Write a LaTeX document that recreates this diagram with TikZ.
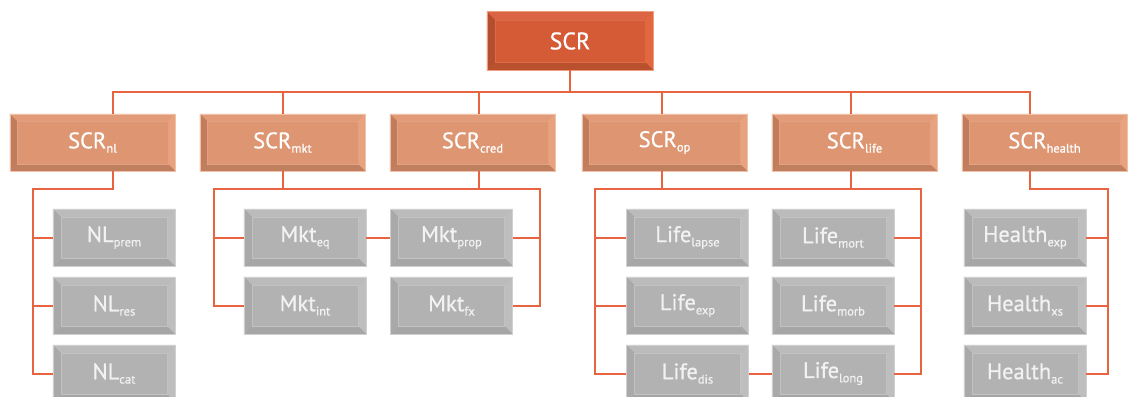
\documentclass[tikz,border=0pt]{standalone}
\usepackage{fontspec}
\setmainfont{PT Sans}[FakeBold=0.7]
\usetikzlibrary{calc}
\definecolor{linec}{HTML}{E8633F}
\definecolor{Aface}{HTML}{D55A36}
\definecolor{At}{HTML}{DB6444}
\definecolor{Ar}{HTML}{E2673F}
\definecolor{Ab}{HTML}{B9512F}
\definecolor{Al}{HTML}{B54E2E}
\definecolor{Ae}{HTML}{EE9F80}
\definecolor{Ai}{HTML}{DD6A48}
\definecolor{Bface}{HTML}{DD9572}
\definecolor{Bt}{HTML}{E19B78}
\definecolor{Br}{HTML}{E8A27E}
\definecolor{Bb}{HTML}{C0805F}
\definecolor{Bl}{HTML}{C07C5B}
\definecolor{Be}{HTML}{F0C0A8}
\definecolor{Bi}{HTML}{E3A083}
\definecolor{Cface}{HTML}{B2B2B2}
\definecolor{Ct}{HTML}{BBBBBB}
\definecolor{Cr}{HTML}{BEBEBE}
\definecolor{Cb}{HTML}{A6A6A6}
\definecolor{Cl}{HTML}{A9A9A9}
\definecolor{Ce}{HTML}{D0D0D0}
\definecolor{Ci}{HTML}{C2C2C2}
\newcommand\sub[1]{\raisebox{-4.3pt}{\fontsize{12.5}{14}\selectfont #1}}
% name, bevel width, colour prefix
\newcommand\bevel[3]{%
 \fill[#3t] (#1.north west) -- (#1.north east) -- ([shift={(-#2,-#2)}]#1.north east) -- ([shift={(#2,-#2)}]#1.north west) -- cycle;
 \fill[#3r] (#1.north east) -- (#1.south east) -- ([shift={(-#2,#2)}]#1.south east) -- ([shift={(-#2,-#2)}]#1.north east) -- cycle;
 \fill[#3b] (#1.south east) -- (#1.south west) -- ([shift={(#2,#2)}]#1.south west) -- ([shift={(-#2,#2)}]#1.south east) -- cycle;
 \fill[#3l] (#1.south west) -- (#1.north west) -- ([shift={(#2,-#2)}]#1.north west) -- ([shift={(#2,#2)}]#1.south west) -- cycle;
 \draw[#3i, line width=0.5pt] ([shift={(#2,-#2)}]#1.north west) rectangle ([shift={(-#2,#2)}]#1.south east);
 \draw[#3e, line width=0.6pt] (#1.north west) rectangle (#1.south east);
}
\begin{document}
\begin{tikzpicture}[x=1pt,y=-1pt,
  lvA/.style={minimum width=166pt, minimum height=58pt, inner sep=0pt, fill=Aface, text=white, font=\fontsize{24}{28}\selectfont},
  lvB/.style={minimum width=165pt, minimum height=57pt, inner sep=0pt, fill=Bface, text=white, font=\fontsize{22.5}{26}\selectfont},
  lvC/.style={minimum width=122pt, minimum height=57pt, inner sep=0pt, fill=Cface, text=white!95!black, font=\fontsize{22.5}{26}\selectfont},
  conn/.style={draw=linec, line width=2pt}]
\useasboundingbox (0,0) rectangle (1129,396);

% level 1
\node[lvA] (top) at (570,41) {SCR};
\bevel{top}{8pt}{A}

% level 2
\foreach \n/\x/\s in {nl/92.5/nl, mkt/282.5/mkt, cred/472.5/cred, op/664.5/op, life/854.5/life, health/1044.5/health}{
  \node[lvB] (\n) at (\x,142.5) {SCR\sub{\s}};
  \bevel{\n}{7pt}{B}
}

% level 3
\foreach \n/\x/\y/\t/\s in {
  nlprem/114/237.5/NL/prem, nlres/114/305.5/NL/res, nlcat/114/373.5/NL/cat,
  mkteq/305/237.5/Mkt/eq, mktint/305/305.5/Mkt/int,
  mktprop/451.5/237.5/Mkt/prop, mktfx/451.5/305.5/Mkt/fx,
  lapse/687.5/237.5/Life/lapse, lexp/687.5/305.5/Life/exp, ldis/687.5/373.5/Life/dis,
  mort/833/237.5/Life/mort, morb/833/305.5/Life/morb, llong/833/373.5/Life/long,
  hexp/1025/237.5/Health/exp, hxs/1025/305.5/Health/xs, hac/1025/373.5/Health/ac}{
  \node[lvC] (\n) at (\x,\y) {\t\sub{\s}};
  \bevel{\n}{8pt}{C}
}

% guide coordinates
\coordinate (bus) at (0,92);
\coordinate (bustwo) at (0,189);
\coordinate (nlx) at (113,0);
\coordinate (mktx) at (282.5,0);
\coordinate (credx) at (479,0);
\coordinate (opx) at (662,0);
\coordinate (lifex) at (851,0);
\coordinate (healthx) at (1030,0);
\coordinate (nlbar) at (33,0);
\coordinate (mktL) at (214,0);
\coordinate (mktR) at (540,0);
\coordinate (lifeL) at (595,0);
\coordinate (lifeR) at (921,0);
\coordinate (hR) at (1108,0);

% top bus
\draw[conn] (top.south) -- (top.south |- bus);
\draw[conn] (nl.north -| nlx) -- (bus -| nlx) -- (bus -| healthx) -- (health.north -| healthx);
\draw[conn] (mkt.north -| mktx) -- (bus -| mktx);
\draw[conn] (cred.north -| credx) -- (bus -| credx);
\draw[conn] (op.north -| opx) -- (bus -| opx);
\draw[conn] (life.north -| lifex) -- (bus -| lifex);

% NL group
\draw[conn] (nl.south -| nlx) -- (bustwo -| nlx) -- (bustwo -| nlbar) -- (nlcat.west -| nlbar) -- (nlcat.west);
\draw[conn] (nlprem.west -| nlbar) -- (nlprem.west);
\draw[conn] (nlres.west -| nlbar) -- (nlres.west);

% Market group
\draw[conn] (mkt.south -| mktx) -- (bustwo -| mktx);
\draw[conn] (cred.south -| credx) -- (bustwo -| credx);
\draw[conn] (mktint.west) -- (mktint.west -| mktL) -- (bustwo -| mktL) -- (bustwo -| mktR) -- (mktfx.east -| mktR) -- (mktfx.east);
\draw[conn] (mkteq.west) -- (mkteq.west -| mktL);
\draw[conn] (mkteq.east) -- (mktprop.west);
\draw[conn] (mktprop.east) -- (mktprop.east -| mktR);

% Life group
\draw[conn] (op.south -| opx) -- (bustwo -| opx);
\draw[conn] (life.south -| lifex) -- (bustwo -| lifex);
\draw[conn] (ldis.west) -- (ldis.west -| lifeL) -- (bustwo -| lifeL) -- (bustwo -| lifeR) -- (llong.east -| lifeR) -- (llong.east);
\draw[conn] (lapse.west) -- (lapse.west -| lifeL);
\draw[conn] (lexp.west) -- (lexp.west -| lifeL);
\draw[conn] (mort.east) -- (mort.east -| lifeR);
\draw[conn] (morb.east) -- (morb.east -| lifeR);
\draw[conn] (ldis.east) -- (llong.west);

% Health group
\draw[conn] (health.south -| healthx) -- (bustwo -| healthx) -- (bustwo -| hR) -- (hac.east -| hR) -- (hac.east);
\draw[conn] (hexp.east) -- (hexp.east -| hR);
\draw[conn] (hxs.east) -- (hxs.east -| hR);
\end{tikzpicture}
\end{document}
